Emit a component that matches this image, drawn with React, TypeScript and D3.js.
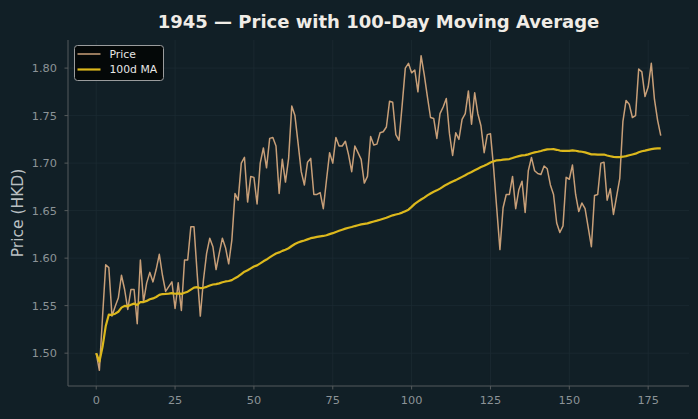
import * as d3 from 'd3'

// daily closing price (index = trading day)
const price: number[] = [
  1.500, 1.482, 1.538, 1.593, 1.590, 1.539, 1.549, 1.558, 1.582, 1.567,
  1.546, 1.567, 1.567, 1.531, 1.598, 1.554, 1.574, 1.585, 1.575, 1.588,
  1.604, 1.582, 1.565, 1.570, 1.575, 1.547, 1.574, 1.545, 1.598, 1.598,
  1.633, 1.633, 1.584, 1.539, 1.577, 1.605, 1.621, 1.612, 1.588, 1.605,
  1.621, 1.611, 1.594, 1.619, 1.668, 1.661, 1.700, 1.706, 1.659, 1.686,
  1.685, 1.657, 1.700, 1.716, 1.695, 1.726, 1.727, 1.718, 1.668, 1.704,
  1.680, 1.705, 1.760, 1.750, 1.721, 1.691, 1.677, 1.701, 1.705, 1.667,
  1.667, 1.669, 1.652, 1.682, 1.711, 1.700, 1.727, 1.718, 1.718, 1.723,
  1.709, 1.691, 1.718, 1.711, 1.704, 1.679, 1.686, 1.728, 1.719, 1.720,
  1.732, 1.733, 1.738, 1.765, 1.764, 1.730, 1.724, 1.761, 1.800, 1.805,
  1.795, 1.798, 1.775, 1.813, 1.793, 1.770, 1.748, 1.747, 1.726, 1.752,
  1.759, 1.768, 1.731, 1.708, 1.732, 1.725, 1.746, 1.752, 1.776, 1.741,
  1.774, 1.752, 1.739, 1.711, 1.730, 1.731, 1.695, 1.652, 1.609, 1.653,
  1.667, 1.667, 1.686, 1.652, 1.672, 1.681, 1.648, 1.692, 1.706, 1.692,
  1.689, 1.688, 1.697, 1.694, 1.677, 1.667, 1.637, 1.627, 1.634, 1.685,
  1.683, 1.698, 1.667, 1.649, 1.658, 1.652, 1.632, 1.612, 1.666, 1.667,
  1.700, 1.701, 1.661, 1.673, 1.646, 1.665, 1.684, 1.744, 1.766, 1.762,
  1.748, 1.750, 1.799, 1.796, 1.770, 1.780, 1.805, 1.767, 1.745, 1.729,
]

const maWindow = 100
const xTicks = [0, 25, 50, 75, 100, 125, 150, 175]
const yTicks = [1.5, 1.55, 1.6, 1.65, 1.7, 1.75, 1.8]
const seriesNames = ['Price', '100d MA']

// rolling mean, shorter window at the start (min periods = 1)
const movingAvg = price.map((_, i) => d3.mean(price.slice(Math.max(0, i - maWindow + 1), i + 1)) as number)

const W = 698
const H = 419
const margin = { top: 40, right: 9, bottom: 33, left: 68 }

const BG = '#111f26'
const GRID = '#1c2b32'
const SPINE = '#555a5c'
const TICK_TXT = '#8c9397'
const PRICE_COL = '#c89f78'
const MA_COL = '#dcb81c'
const FONT = 'DejaVu Sans, sans-serif'

export default function App() {
  const n = price.length
  const pad = (n - 1) * 0.05
  const x = d3.scaleLinear()
    .domain([-pad, n - 1 + pad])
    .range([margin.left, W - margin.right])

  const all = price.concat(movingAvg)
  const lo = d3.min(all) as number
  const hi = d3.max(all) as number
  const ypad = (hi - lo) * 0.05
  const y = d3.scaleLinear()
    .domain([lo - ypad, hi + ypad])
    .range([H - margin.bottom, margin.top])

  const line = d3.line<number>()
    .x((_, i) => x(i))
    .y(d => y(d))

  const x0 = margin.left
  const x1 = W - margin.right
  const y0 = H - margin.bottom
  const y1 = margin.top

  return (
    <svg width={W} height={H} style={{ position: 'absolute', left: 0, top: 0 }} fontFamily={FONT}>
      <rect width={W} height={H} fill={BG} />

      {/* grid */}
      {xTicks.map(t => (
        <line key={'gx' + t} x1={x(t)} x2={x(t)} y1={y1} y2={y0} stroke={GRID} strokeWidth={0.8} />
      ))}
      {yTicks.map(t => (
        <line key={'gy' + t} x1={x0} x2={x1} y1={y(t)} y2={y(t)} stroke={GRID} strokeWidth={0.8} />
      ))}

      {/* series */}
      <path d={line(price) || ''} fill="none" stroke={PRICE_COL} strokeWidth={1.5} strokeLinejoin="round" />
      <path d={line(movingAvg) || ''} fill="none" stroke={MA_COL} strokeWidth={2.2} strokeLinejoin="round" />

      {/* spines */}
      <line x1={x0} x2={x0} y1={y1} y2={y0} stroke={SPINE} strokeWidth={1} />
      <line x1={x0} x2={x1} y1={y0} y2={y0} stroke={SPINE} strokeWidth={1} />

      {/* x axis */}
      {xTicks.map(t => (
        <g key={'tx' + t}>
          <line x1={x(t)} x2={x(t)} y1={y0} y2={y0 + 3.5} stroke={SPINE} />
          <text x={x(t)} y={y0 + 18} textAnchor="middle" fontSize={11.3} fill={TICK_TXT}>{t}</text>
        </g>
      ))}

      {/* y axis */}
      {yTicks.map(t => (
        <g key={'ty' + t}>
          <line x1={x0 - 3.5} x2={x0} y1={y(t)} y2={y(t)} stroke={SPINE} />
          <text x={x0 - 11} y={y(t)} dy="0.35em" textAnchor="end" fontSize={11.3} fill={TICK_TXT}>{t.toFixed(2)}</text>
        </g>
      ))}
      <text
        transform={`translate(18,${(y0 + y1) / 2}) rotate(-90)`}
        textAnchor="middle"
        dy="0.35em"
        fontSize={15.5}
        fill="#b9bfc2"
      >Price (HKD)</text>

      {/* title */}
      <text x={(x0 + x1) / 2} y={28} textAnchor="middle" fontSize={18} fontWeight="bold" fill="#f0ece6">
        1945 — Price with 100-Day Moving Average
      </text>

      {/* legend */}
      <g>
        <rect x={74.5} y={45.5} width={89} height={35} rx={3} fill="#030506" fillOpacity={0.9} stroke="#9a9c9d" strokeWidth={1} />
        {seriesNames.map((name, i) => (
          <g key={name}>
            <line
              x1={77.5} x2={100.5}
              y1={54 + i * 15.5} y2={54 + i * 15.5}
              stroke={i === 0 ? PRICE_COL : MA_COL}
              strokeWidth={i === 0 ? 1.5 : 2.2}
            />
            <text x={109.5} y={54 + i * 15.5} dy="0.35em" fontSize={10.8} fill="#e6e6e6">{name}</text>
          </g>
        ))}
      </g>
    </svg>
  )
}
